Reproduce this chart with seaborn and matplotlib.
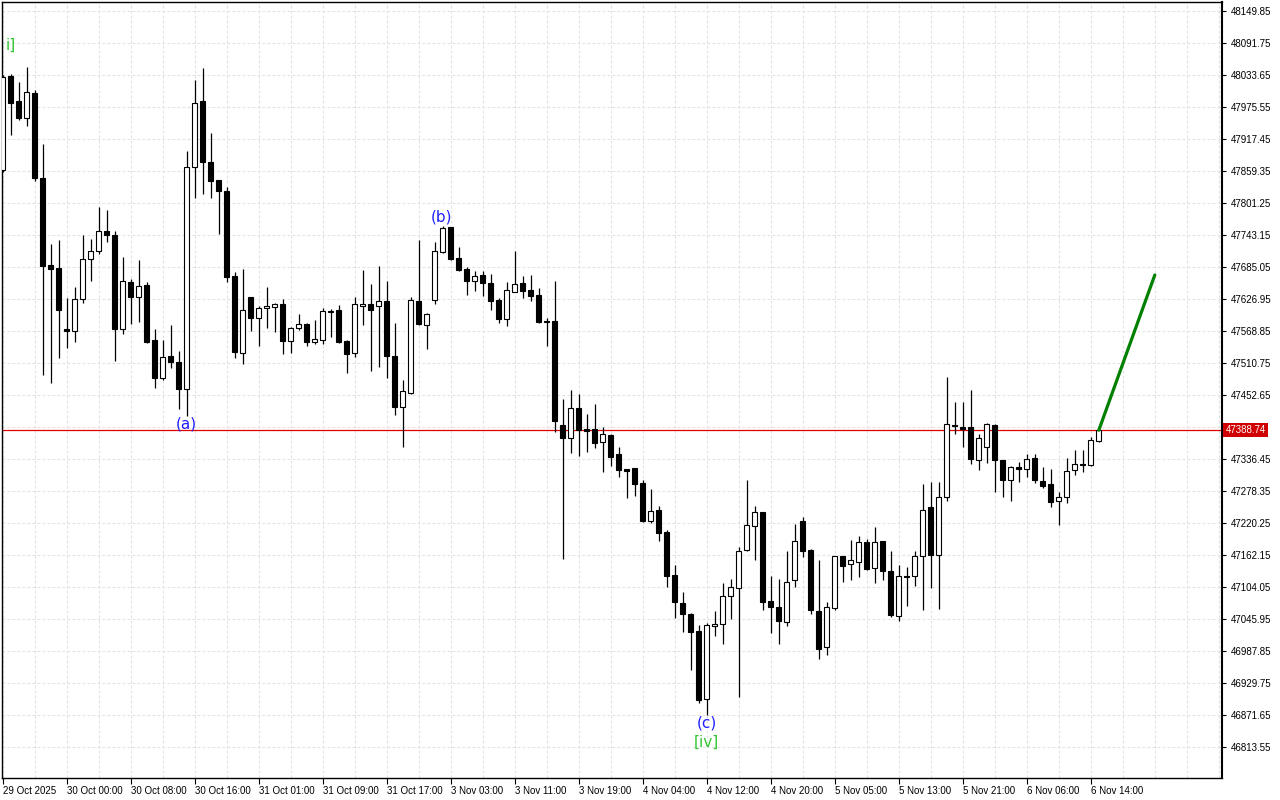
import matplotlib
matplotlib.use('Agg')
import matplotlib.pyplot as plt
import matplotlib.transforms as mtransforms
import seaborn as sns
import pandas as pd
import numpy as np

# H1 candles, first one = 29 Oct 2025 16:00
opens = [47861, 48032, 47986, 47956, 48001, 47847, 47689, 47683, 47572, 47569,
         47627, 47700, 47714, 47750, 47743, 47572, 47658, 47631, 47652, 47553,
         47484, 47523, 47513, 47464, 47867, 47986, 47876, 47843, 47823, 47669,
         47529, 47631, 47592, 47611, 47612, 47618, 47551, 47574, 47582, 47549,
         47553, 47603, 47607, 47551, 47529, 47614, 47618, 47614, 47623, 47524,
         47431, 47456, 47623, 47580, 47625, 47712, 47758, 47701, 47681, 47660,
         47670, 47656, 47625, 47591, 47640, 47656, 47643, 47634, 47587, 47587,
         47398, 47375, 47429, 47391, 47391, 47367, 47380, 47346, 47318, 47320,
         47293, 47224, 47244, 47204, 47126, 47075, 47055, 47024, 46901, 47033,
         47037, 47088, 47102, 47171, 47215, 47240, 47079, 47068, 47041, 47117,
         47224, 47171, 47060, 46995, 47066, 47160, 47146, 47149, 47186, 47138,
         47188, 47133, 47051, 47124, 47124, 47160, 47249, 47162, 47267, 47398,
         47395, 47395, 47335, 47358, 47398, 47335, 47298, 47322, 47318, 47338,
         47297, 47291, 47260, 47267, 47316, 47327, 47326, 47369]
highs = [48034, 48035, 48021, 48048, 48006, 47908, 47727, 47734, 47629, 47649,
         47743, 47736, 47794, 47789, 47750, 47703, 47663, 47698, 47658, 47572,
         47553, 47580, 47533, 47896, 48025, 48046, 47928, 47843, 47830, 47676,
         47681, 47631, 47614, 47649, 47620, 47627, 47576, 47600, 47583, 47589,
         47611, 47609, 47616, 47553, 47631, 47680, 47654, 47687, 47660, 47583,
         47480, 47631, 47734, 47602, 47731, 47759, 47758, 47721, 47685, 47678,
         47678, 47672, 47629, 47658, 47714, 47669, 47670, 47647, 47592, 47660,
         47445, 47462, 47454, 47418, 47436, 47395, 47381, 47358, 47319, 47321,
         47298, 47282, 47251, 47208, 47144, 47095, 47057, 47035, 47039, 47060,
         47111, 47119, 47177, 47298, 47251, 47241, 47124, 47119, 47170, 47218,
         47231, 47173, 47153, 47077, 47161, 47161, 47189, 47197, 47191, 47213,
         47188, 47170, 47144, 47140, 47170, 47291, 47295, 47295, 47485, 47440,
         47440, 47462, 47382, 47402, 47400, 47335, 47324, 47331, 47346, 47346,
         47322, 47318, 47277, 47338, 47353, 47353, 47376, 47391]
lows = [47857, 47925, 47952, 47941, 47841, 47489, 47474, 47520, 47538, 47549,
        47620, 47660, 47709, 47730, 47514, 47563, 47582, 47585, 47547, 47465,
        47480, 47502, 47427, 47415, 47810, 47818, 47810, 47745, 47658, 47520,
        47509, 47569, 47542, 47574, 47567, 47527, 47529, 47571, 47542, 47545,
        47545, 47558, 47547, 47493, 47522, 47580, 47496, 47504, 47484, 47416,
        47358, 47454, 47580, 47536, 47618, 47710, 47698, 47678, 47634, 47641,
        47632, 47607, 47583, 47578, 47640, 47629, 47623, 47583, 47542, 47385,
        47155, 47347, 47342, 47349, 47356, 47313, 47324, 47304, 47266, 47269,
        47222, 47220, 47188, 47104, 47048, 47022, 46953, 46893, 46872, 47015,
        47001, 47046, 46904, 47169, 47153, 47062, 47021, 47001, 47033, 47104,
        47158, 47055, 46973, 46981, 47062, 47113, 47117, 47122, 47135, 47111,
        47117, 47050, 47042, 47070, 47106, 47062, 47102, 47064, 47260, 47382,
        47358, 47327, 47316, 47329, 47276, 47267, 47260, 47295, 47304, 47293,
        47284, 47249, 47217, 47257, 47307, 47313, 47324, 47367]
closes = [48030, 47983, 47956, 48003, 47847, 47687, 47681, 47607, 47569, 47627,
          47700, 47714, 47750, 47743, 47572, 47660, 47631, 47651, 47549, 47484,
          47522, 47513, 47464, 47867, 47983, 47876, 47841, 47823, 47667, 47531,
          47607, 47592, 47611, 47614, 47618, 47551, 47574, 47582, 47549, 47554,
          47605, 47605, 47549, 47527, 47618, 47618, 47607, 47623, 47524, 47431,
          47460, 47625, 47582, 47600, 47714, 47756, 47700, 47680, 47660, 47669,
          47656, 47623, 47591, 47643, 47654, 47641, 47632, 47585, 47585, 47405,
          47375, 47429, 47389, 47387, 47366, 47382, 47340, 47316, 47315, 47291,
          47224, 47242, 47202, 47124, 47077, 47055, 47022, 46899, 47035, 47037,
          47088, 47104, 47169, 47217, 47240, 47077, 47068, 47042, 47113, 47188,
          47169, 47062, 46991, 47068, 47160, 47142, 47153, 47186, 47137, 47186,
          47133, 47053, 47124, 47122, 47160, 47244, 47162, 47267, 47400, 47396,
          47391, 47336, 47375, 47400, 47335, 47298, 47322, 47318, 47336, 47298,
          47287, 47258, 47267, 47315, 47327, 47326, 47371, 47388.74]

time_labels = ["29 Oct 2025", "30 Oct 00:00", "30 Oct 08:00", "30 Oct 16:00",
               "31 Oct 01:00", "31 Oct 09:00", "31 Oct 17:00", "3 Nov 03:00",
               "3 Nov 11:00", "3 Nov 19:00", "4 Nov 04:00", "4 Nov 12:00",
               "4 Nov 20:00", "5 Nov 05:00", "5 Nov 13:00", "5 Nov 21:00",
               "6 Nov 06:00", "6 Nov 14:00"]

price_ticks = [46813.55, 46871.65, 46929.75, 46987.85, 47045.95, 47104.05,
               47162.15, 47220.25, 47278.35, 47336.45, 47394.55, 47452.65,
               47510.75, 47568.85, 47626.95, 47685.05, 47743.15, 47801.25,
               47859.35, 47917.45, 47975.55, 48033.65, 48091.75, 48149.85]

last_price = 47388.74

# projection line
forecast_x = [137, 144]
forecast_y = [47388.74, 47670.5]

# wave labels
wave_text = ["i]", "(a)", "(b)", "(c)", "[iv]"]
wave_x = [1, 22.9, 54.9, 88, 88]
wave_y = [48088, 47400, 47776, 46857, 46823]
wave_colors = ["#33c533", "#1f1fff", "#1f1fff", "#1f1fff", "#33c533"]

sns.set_theme(style="white")
plt.rcParams['font.family'] = ['Liberation Sans', 'DejaVu Sans']

df = pd.DataFrame({"open": opens, "high": highs, "low": lows, "close": closes})
df["bull"] = df["close"] >= df["open"]

fig = plt.figure(figsize=(12.8, 8), dpi=100)
ax = fig.add_axes([2 / 1280, 22 / 800, 1220 / 1280, 776 / 800])

# wicks + bodies
ax.vlines(df.index, df["low"], df["high"], color="black", linewidth=0.9, zorder=2)
ax.bar(df.index, (df["close"] - df["open"]).abs(),
       bottom=df[["open", "close"]].min(axis=1), width=0.62,
       color=np.where(df["bull"], "white", "black"), edgecolor="black",
       linewidth=0.8, zorder=3)

ax.axhline(last_price, color="#e00000", linewidth=0.9, zorder=1.5)

fc = pd.DataFrame({"x": forecast_x, "y": forecast_y})
sns.lineplot(data=fc, x="x", y="y", ax=ax, color="#008000", linewidth=2.3, zorder=4)

for t, x, y, c in zip(wave_text, wave_x, wave_y, wave_colors):
    ax.text(x, y, t, color=c, fontsize=11, ha="center", va="center",
            family=["DejaVu Sans"], zorder=5)

ax.set_xlim(-0.1, 152.4)
ax.set_ylim(46757.3, 48166.2)

ax.set_xticks(range(0, len(closes), 8))
ax.set_xticklabels(time_labels, ha="left", fontsize=7)
ax.set_xticks(range(0, 153, 4), minor=True)
ax.yaxis.tick_right()
ax.set_yticks(price_ticks)
# the price tag hides the tick label right next to the last price
ytick_text = ["" if abs(v - last_price) < 20 else f"{v:.2f}" for v in price_ticks]
ax.set_yticklabels(ytick_text, fontsize=7)
ax.tick_params(axis="x", which="major", bottom=True, direction="out", length=4,
               width=0.8, pad=2, colors="black")
ax.tick_params(axis="x", which="minor", length=0)
ax.tick_params(axis="y", right=True, left=False, direction="out", length=3,
               width=0.8, pad=3, colors="black")
ax.set_xlabel("")
ax.set_ylabel("")

ax.grid(True, which="both", axis="x", color="#e2e2e2", linestyle=(0, (2.5, 2)), linewidth=0.8)
ax.grid(True, which="major", axis="y", color="#e2e2e2", linestyle=(0, (2.5, 2)), linewidth=0.8)
ax.set_axisbelow(True)

for s in ax.spines.values():
    s.set_color("black")
    s.set_linewidth(1)
ax.spines["right"].set_linewidth(1.5)

# current price tag on the axis
trans = mtransforms.blended_transform_factory(ax.transAxes, ax.transData)
ax.text(1.003, last_price, f"{last_price:.2f}", transform=trans, ha="left", va="center",
        color="white", fontsize=7, clip_on=False, zorder=6,
        bbox=dict(facecolor="#d00000", edgecolor="none", pad=1.6))

fig.savefig("out.png", dpi=100, facecolor="white")
plt.close(fig)
